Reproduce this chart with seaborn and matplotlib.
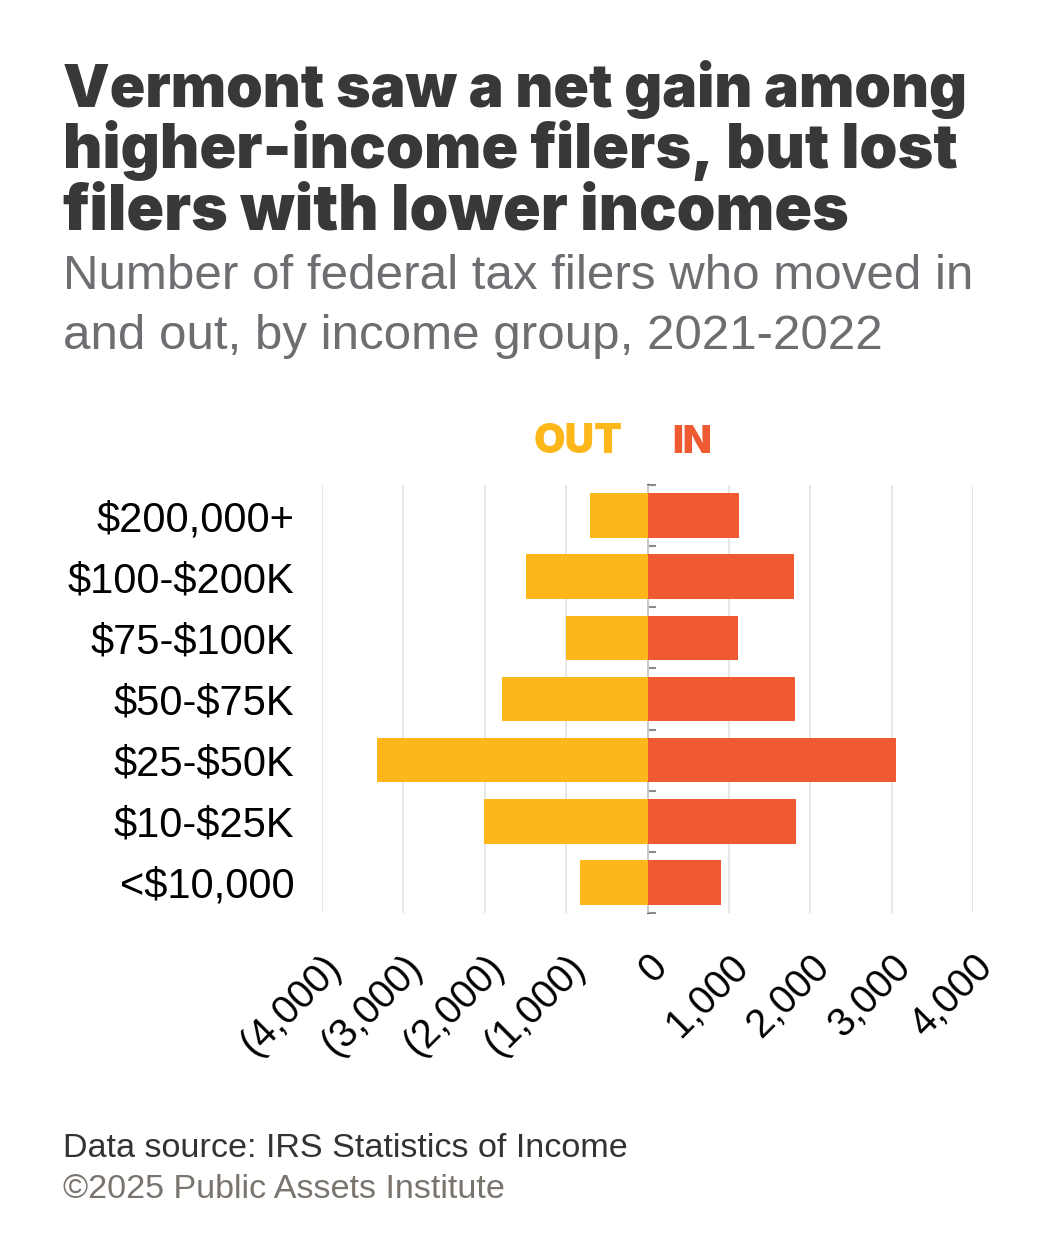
import matplotlib
matplotlib.use("Agg")
import matplotlib.pyplot as plt
import seaborn as sns
import pandas as pd

# ---- data ----
groups = ["$200,000+", "$100-$200K", "$75-$100K", "$50-$75K", "$25-$50K", "$10-$25K", "<$10,000"]
filers_out = [710, 1490, 1000, 1790, 3320, 2010, 830]
filers_in = [1130, 1800, 1110, 1810, 3050, 1830, 900]
x_ticks = [-4000, -3000, -2000, -1000, 0, 1000, 2000, 3000, 4000]
x_tick_labels = ["(4,000)", "(3,000)", "(2,000)", "(1,000)", "0", "1,000", "2,000", "3,000", "4,000"]

title_lines = ["Vermont saw a net gain among", "higher-income filers, but lost", "filers with lower incomes"]
subtitle_lines = ["Number of federal tax filers who moved in", "and out, by income group, 2021-2022"]
source_text = "Data source: IRS Statistics of Income"
credit_text = "\u00a92025 Public Assets Institute"

OUT_COLOR = "#FDB71A"
IN_COLOR = "#F05A30"

df = pd.DataFrame({
    "group": groups * 2,
    "value": [-v for v in filers_out] + filers_in,
    "direction": ["OUT"] * len(groups) + ["IN"] * len(groups),
})

sns.set_theme(style="white")
plt.rcParams["font.family"] = ["Liberation Sans", "DejaVu Sans"]
plt.rcParams["text.parse_math"] = False

W, H = 1043, 1260
fig = plt.figure(figsize=(W / 100, H / 100), dpi=100)
fig.patch.set_facecolor("white")

ax_left, ax_right, ax_top, ax_bottom = 322, 973, 485, 913
ax = fig.add_axes([ax_left / W, 1 - ax_bottom / H, (ax_right - ax_left) / W, (ax_bottom - ax_top) / H])

sns.barplot(data=df, y="group", x="value", hue="direction", order=groups,
            palette={"OUT": OUT_COLOR, "IN": IN_COLOR}, dodge=False,
            width=0.73, legend=False, ax=ax, orient="h", linewidth=0, saturation=1)

ax.set_xlim(-4000, 4000)
ax.set_ylim(len(groups) - 0.5, -0.5)
ax.set_xticks(x_ticks)
ax.set_xticklabels(x_tick_labels, rotation=45, ha="right", rotation_mode="anchor",
                   fontsize=28.5, color="black")
ax.tick_params(axis="x", length=0, pad=25)
ax.set_yticks(range(len(groups)))
ax.set_yticklabels(groups, fontsize=30, color="black")
ax.tick_params(axis="y", length=0, pad=20)
ax.set_xlabel("")
ax.set_ylabel("")
for s in ax.spines.values():
    s.set_visible(False)
ax.grid(axis="x", color="#e3e3e3", linewidth=1.2)
ax.grid(axis="y", visible=False)
ax.set_axisbelow(True)

# centre axis with boundary ticks
sec = ax.secondary_yaxis(0.5)
sec.set_yticks([i - 0.5 for i in range(len(groups) + 1)])
sec.set_yticklabels([])
sec.tick_params(axis="y", direction="out", length=6, width=1.5, color="#8a8a8a")
sec.spines["left"].set_color("#8a8a8a")
sec.spines["left"].set_linewidth(1.5)

renderer = fig.canvas.get_renderer()

def ftext(x, y, s, target_width=None, **kw):
    t = fig.text(x / W, 1 - y / H, s, va="baseline", **kw)
    if target_width is not None:
        w = t.get_window_extent(renderer=renderer).width
        t.set_fontsize(t.get_fontsize() * target_width / w)
    return t

HEAVY = ["Inter", "Roboto", "DejaVu Sans"]
title_widths = [905, 893, 785]
for i, line in enumerate(title_lines):
    ftext(63, 107 + i * 61, line, target_width=title_widths[i], fontsize=40,
          fontweight=900, color="#383838", family=HEAVY)
sub_widths = [909, 820]
for i, line in enumerate(subtitle_lines):
    ftext(63, 289 + i * 60, line, target_width=sub_widths[i], fontsize=34, color="#6d6e71")

ftext(578, 453, "OUT", target_width=89, fontsize=27, fontweight=900, color=OUT_COLOR, ha="center", family=HEAVY)
ftext(692, 453, "IN", fontsize=27, fontweight=900, color=IN_COLOR, ha="center", family=HEAVY)

ftext(63, 1157, source_text, target_width=565, fontsize=24, color="#333333")
ftext(63, 1198, credit_text, target_width=442, fontsize=24, color="#7a746e")

fig.savefig("out.png", dpi=100, facecolor="white")
